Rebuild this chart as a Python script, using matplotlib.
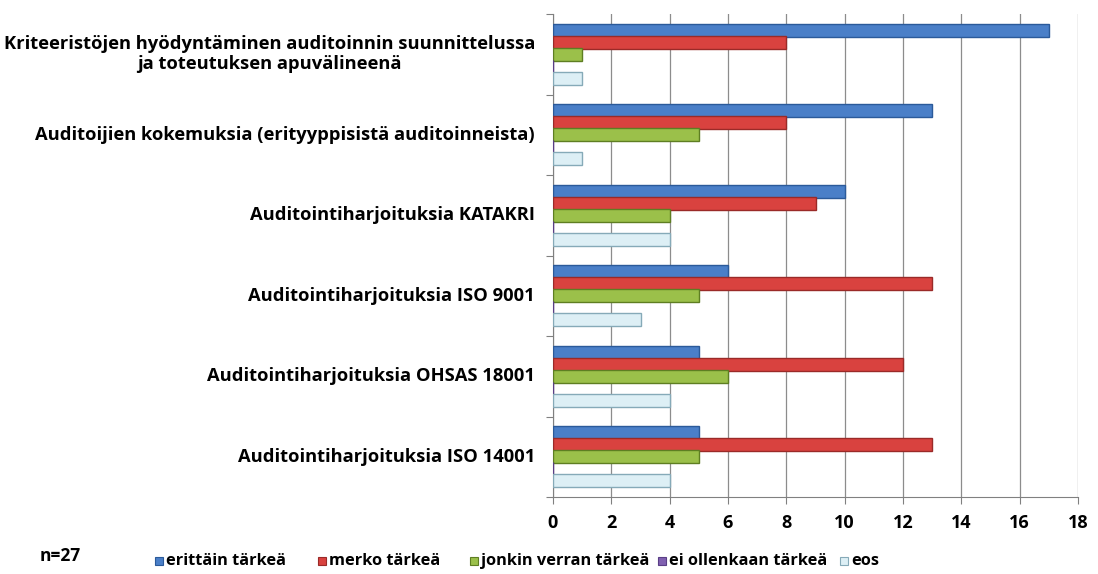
import matplotlib
matplotlib.use("Agg")
import matplotlib.pyplot as plt
import numpy as np
from matplotlib.patches import Rectangle
from matplotlib.transforms import blended_transform_factory

categories = [
    "Kriteeristöjen hyödyntäminen auditoinnin suunnittelussa\nja toteutuksen apuvälineenä",
    "Auditoijien kokemuksia (erityyppisistä auditoinneista)",
    "Auditointiharjoituksia KATAKRI",
    "Auditointiharjoituksia ISO 9001",
    "Auditointiharjoituksia OHSAS 18001",
    "Auditointiharjoituksia ISO 14001",
]
series_names = ["erittäin tärkeä", "merko tärkeä", "jonkin verran tärkeä", "ei ollenkaan tärkeä", "eos"]
erittain = [17, 13, 10, 6, 5, 5]
merko = [8, 8, 9, 13, 12, 13]
jonkin = [1, 5, 4, 5, 6, 5]
ei_ollenkaan = [0, 0, 0, 0, 0, 0]
eos = [1, 1, 4, 3, 4, 4]
series_values = [erittain, merko, jonkin, ei_ollenkaan, eos]
x_ticks = [0, 2, 4, 6, 8, 10, 12, 14, 16, 18]
n_text = "n=27"

face_colors = ["#4A7FC8", "#D9423F", "#9BC04A", "#8060B0", "#DDEFF5"]
edge_colors = ["#2B5A9A", "#9A2A28", "#5E7E22", "#5A3E86", "#86AAB8"]

plt.rcParams['font.family'] = ['Open Sans', 'DejaVu Sans']
FS = 13.2
fig = plt.figure(figsize=(10.98, 5.74), dpi=100)
ax = fig.add_axes([553/1098, 1-497/574, (1078-553)/1098, (497-14)/574])

n = len(categories)
centers = np.arange(n)[::-1].astype(float)
h = 0.16
offsets = [0.30, 0.15, 0.0, -0.15, -0.30]
for vals, off, fc, ec, name in zip(series_values, offsets, face_colors, edge_colors, series_names):
    ax.barh(centers + off, vals, height=h, color=fc, edgecolor=ec, linewidth=1.0, label=name, zorder=3)

ax.set_ylim(-0.5, n - 0.5)
ax.set_xlim(0, 18)
ax.set_xticks(x_ticks)
ax.set_xticklabels([str(t) for t in x_ticks], fontsize=13, fontweight='bold')
ax.set_yticks(np.arange(-0.5, n, 1.0))
ax.set_yticklabels([])
ax.tick_params(axis='y', length=5, color='#808080')
ax.tick_params(axis='x', length=5, color='#808080', pad=7)
ax.grid(axis='x', color='#8C8C8C', linewidth=0.9, zorder=0)
for s in ['top', 'right']:
    ax.spines[s].set_visible(False)
ax.spines['left'].set_color('#808080')
ax.spines['bottom'].set_color('#808080')

trans = blended_transform_factory(fig.transFigure, ax.transData)
for c, label in zip(centers, categories):
    fig.text(535/1098, c, label, transform=trans, ha='right', va='center',
             fontsize=FS, fontweight='bold', multialignment='center', linespacing=1.15)

# legend drawn manually at reference positions
leg_x = [155, 318, 470, 658, 840]
leg_y = 1 - 561/574
sq = 8
for x0, name, fc, ec in zip(leg_x, series_names, face_colors, edge_colors):
    fig.patches.append(Rectangle((x0/1098, leg_y - (sq/2)/574), sq/1098, sq/574,
                                 transform=fig.transFigure, facecolor=fc, edgecolor=ec, linewidth=0.8))
    fig.text((x0 + sq + 3)/1098, leg_y, name, fontsize=11.8, fontweight='bold', va='center', ha='left')
fig.text(40/1098, 1-556/574, n_text, fontsize=12.5, fontweight='bold', va='center')

fig.savefig("out.png", dpi=100)
